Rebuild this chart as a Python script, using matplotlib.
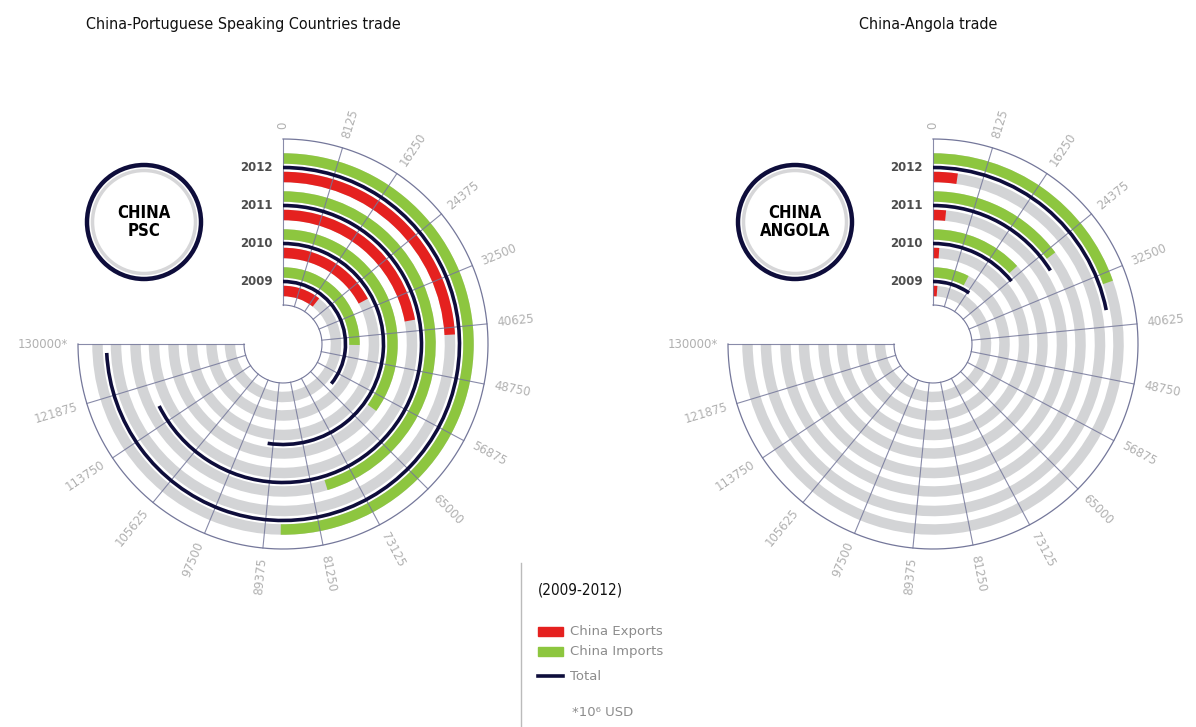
import numpy as np
import matplotlib.pyplot as plt
from matplotlib.patches import Circle, Rectangle

# trade values, 10^6 USD
years = ['2009', '2010', '2011', '2012']
psc_exports = [18500, 29800, 38300, 41800]
psc_imports = [43700, 60500, 78500, 87000]
psc_total = [62300, 90900, 117200, 128600]
ago_exports = [2100, 1800, 2700, 4000]
ago_imports = [13300, 22700, 25600, 34000]
ago_total = [17000, 24700, 27900, 38000]

tick_values = np.arange(0, 130001, 8125)
tick_labels = [str(v) for v in tick_values[:-1]] + ['130000*']

VMAX = 130000
SPAN = 1.5 * np.pi
R_OUT, R_IN, R_LIM = 205, 39, 230

RED = '#e5211f'
GREEN = '#8dc63f'
NAVY = '#0e0d3b'
TRACK = '#d3d4d6'
GRID = '#74779a'
TICK = '#b0b0b0'

W, H = 1196, 727


def ang(v):
    return np.asarray(v) / VMAX * SPAN


def radial(ax, exports, imports, total):
    ax.set_theta_zero_location('N')
    ax.set_theta_direction(-1)
    for i, year in enumerate(years):
        r_red = 53 + 38 * i
        r_tot = r_red + 9.5
        r_green = r_red + 18.5
        for r in (r_red, r_green):
            ax.barh(r, SPAN, left=0, height=10.5, color=TRACK, zorder=1)
        ax.barh(r_red, ang(exports[i]), left=0, height=10.5, color=RED, zorder=3)
        ax.barh(r_green, ang(imports[i]), left=0, height=10.5, color=GREEN, zorder=3)
        ax.barh(r_tot, ang(total[i]), left=0, height=3.6, color=NAVY, zorder=5)
        ax.annotate(year, xy=(0, r_tot), xytext=(-10, 0), textcoords='offset pixels',
                    ha='right', va='center', fontsize=8.5, fontweight='bold',
                    color='#4d4d4d')

    for v, lab in zip(tick_values, tick_labels):
        ax.plot([ang(v)] * 2, [R_IN, R_OUT], color=GRID, lw=0.8, alpha=0.85, zorder=4)
        deg = v / VMAX * 270
        if deg <= 180:
            rot, ha = 90 - deg, 'left'
        else:
            rot, ha = 270 - deg, 'right'
        ax.text(ang(v), R_OUT + 10, lab, rotation=rot, rotation_mode='anchor',
                ha=ha, va='center', fontsize=8.5, color=TICK)

    th = np.linspace(0, SPAN, 300)
    ax.plot(th, np.full_like(th, R_OUT), color=GRID, lw=0.9, zorder=4)
    ax.plot(th, np.full_like(th, R_IN), color=GRID, lw=0.8, zorder=4)

    ax.set_ylim(0, R_LIM)
    ax.grid(False)
    ax.set_xticks([])
    ax.set_yticks([])
    ax.spines['polar'].set_visible(False)
    ax.patch.set_alpha(0)


def polar_at(fig, cx, cy):
    rect = [(cx - R_LIM) / W, (H - cy - R_LIM) / H, 2 * R_LIM / W, 2 * R_LIM / H]
    return fig.add_axes(rect, projection='polar')


fig = plt.figure(figsize=(W / 100, H / 100), dpi=100)

over = fig.add_axes([0, 0, 1, 1])
over.set_xlim(0, W)
over.set_ylim(H, 0)
over.axis('off')

ax1 = polar_at(fig, 283, 344)
radial(ax1, psc_exports, psc_imports, psc_total)
ax2 = polar_at(fig, 933, 344)
radial(ax2, ago_exports, ago_imports, ago_total)

# titles
over.text(243, 25, 'China-Portuguese Speaking Countries trade', ha='center', va='center',
          fontsize=11.5, fontstretch='condensed', color='#111111')
over.text(928, 25, 'China-Angola trade', ha='center', va='center',
          fontsize=11.5, fontstretch='condensed', color='#111111')

# badges
for cx, label in [(144, 'CHINA\nPSC'), (795, 'CHINA\nANGOLA')]:
    over.add_patch(Circle((cx, 222), 57, fill=False, ec=NAVY, lw=3.2))
    over.add_patch(Circle((cx, 222), 51.5, fill=False, ec='#d6d6d8', lw=2.5))
    over.text(cx, 222, label, ha='center', va='center', fontsize=12, fontweight='bold',
              fontstretch='condensed', linespacing=0.95, color='black')

# legend
over.plot([521, 521], [563, 727], color='#bbbbbb', lw=1)
over.text(538, 590, '(2009-2012)', ha='left', va='center', fontsize=11,
          fontstretch='condensed', color='#111111')
over.add_patch(Rectangle((538, 627), 25, 9, color=RED))
over.add_patch(Rectangle((538, 647), 25, 9, color=GREEN))
over.plot([538, 563], [676, 676], color=NAVY, lw=2.6)
for y, t in [(631, 'China Exports'), (651, 'China Imports'), (676, 'Total')]:
    over.text(570, y, t, ha='left', va='center', fontsize=9.5, color='#8c8c8c')
over.text(572, 712, '*10⁶ USD', ha='left', va='center', fontsize=9.5, color='#8c8c8c')

fig.savefig('out.png', dpi=100)
